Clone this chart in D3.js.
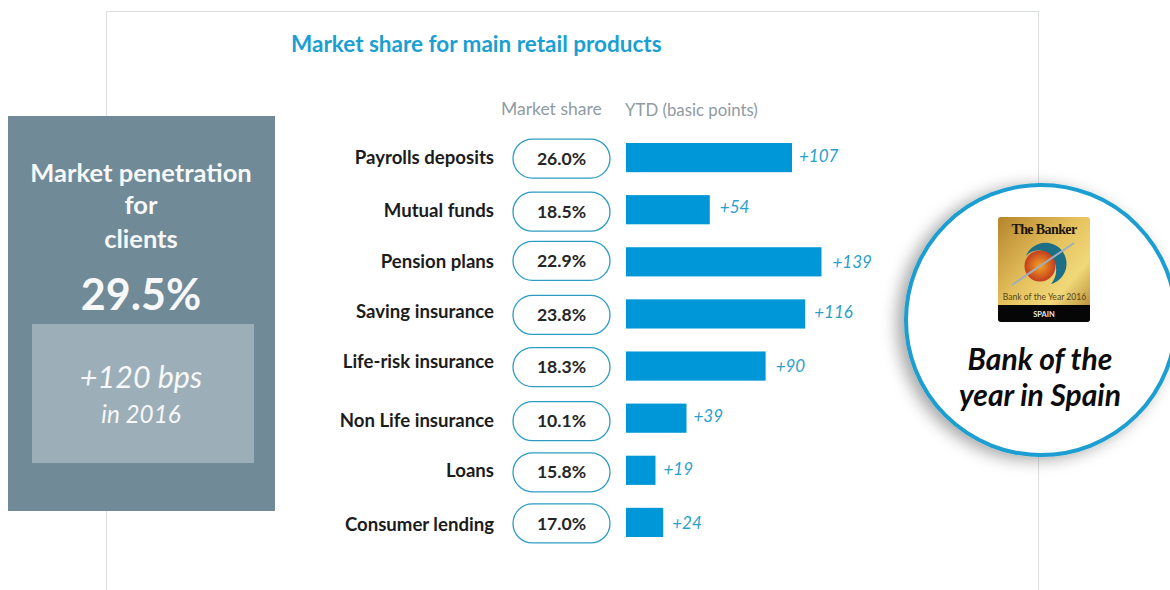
<!DOCTYPE html>
<html>
<head>
<meta charset="utf-8">
<script src="https://cdn.jsdelivr.net/npm/d3@7"></script>
<style>
  html, body { margin: 0; padding: 0; background: #fff; overflow: hidden; }
  text { font-family: Lato, "Open Sans", sans-serif; }
</style>
</head>
<body>
<div id="chart"></div>
<script>
// Chart values
const products = ["Payrolls deposits", "Mutual funds", "Pension plans", "Saving insurance",
  "Life-risk insurance", "Non Life insurance", "Loans", "Consumer lending"];
const marketShare = [26.0, 18.5, 22.9, 23.8, 18.3, 10.1, 15.8, 17.0];
const ytdLabels = [107, 54, 139, 116, 90, 39, 19, 24];
// Bar lengths as drawn in the picture: the +139 bar is shorter than its label says
const ytdBars = [107, 54, 126, 115.5, 90, 39, 19, 24];

const width = 1170;
const height = 590;
const blue = "#0097d8";

const svg = d3.select("#chart").append("svg")
  .attr("width", width)
  .attr("height", height);

const defs = svg.append("defs");

// Shadow of the round badge
const shadow = defs.append("filter").attr("id", "shadow")
  .attr("x", "-20%").attr("y", "-20%").attr("width", "140%").attr("height", "140%");
shadow.append("feDropShadow")
  .attr("dx", -7).attr("dy", 3)
  .attr("stdDeviation", 8)
  .attr("flood-color", "#000")
  .attr("flood-opacity", 0.35);

const gold = defs.append("linearGradient").attr("id", "gold")
  .attr("x1", "0%").attr("y1", "0%").attr("x2", "100%").attr("y2", "100%");
gold.append("stop").attr("offset", "0%").attr("stop-color", "#b5842c");
gold.append("stop").attr("offset", "45%").attr("stop-color", "#e6c25f");
gold.append("stop").attr("offset", "70%").attr("stop-color", "#f0d878");
gold.append("stop").attr("offset", "100%").attr("stop-color", "#a97a28");

const globe = defs.append("radialGradient").attr("id", "globe");
globe.append("stop").attr("offset", "0%").attr("stop-color", "#f4a326");
globe.append("stop").attr("offset", "100%").attr("stop-color", "#c43d1e");

// Outer frame, runs off the bottom of the picture
svg.append("rect")
  .attr("x", 106.5).attr("y", 11.5)
  .attr("width", 932).attr("height", 640)
  .attr("fill", "#fff")
  .attr("stroke", "#dcdfe1");

// Title and column headers
svg.append("text")
  .attr("x", 291).attr("y", 52)
  .attr("font-size", 22.5).attr("font-weight", 700)
  .attr("fill", "#1b9fd3")
  .text("Market share for main retail products");

svg.append("text")
  .attr("x", 501).attr("y", 115)
  .attr("font-size", 17.5).attr("fill", "#8f9ba3")
  .text("Market share");

svg.append("text")
  .attr("x", 625).attr("y", 116)
  .attr("font-size", 16.8).attr("fill", "#8f9ba3")
  .text("YTD (basic points)");

// Scales
const y = d3.scaleBand()
  .domain(products)
  .range([143, 537])
  .paddingInner(0.44)
  .paddingOuter(0);

const x = d3.scaleLinear()
  .domain([0, 107])
  .range([626, 792]);

// Rows in the source are not quite evenly spaced, small nudges per row
const labelNudge = [0, 1, 0, -2, -5, 2, 0, 2];
const pillNudge = [1, 2, -1, 1, 1, 3, 2, 1];
const valueNudge = [-2, -3, 0, -2, 0, -2, -1, 1];
const valueGap = [7, 10, 11, 9, 10, 7, 8, 9];

const rows = svg.selectAll(".row")
  .data(products)
  .enter()
  .append("g")
  .attr("class", "row");

rows.append("text")
  .attr("x", 494)
  .attr("y", (d, i) => y(d) + y.bandwidth() / 2 + labelNudge[i])
  .attr("dy", "0.35em")
  .attr("text-anchor", "end")
  .attr("font-size", 18.6).attr("font-weight", 700)
  .attr("fill", "#1c1c1c")
  .text(d => d);

rows.append("rect")
  .attr("x", 513).attr("width", 97)
  .attr("y", (d, i) => y(d) + y.bandwidth() / 2 + pillNudge[i] - 19.5)
  .attr("height", 39)
  .attr("rx", 19.5)
  .attr("fill", "#fff")
  .attr("stroke", "#2c9cc4")
  .attr("stroke-width", 1.3);

rows.append("text")
  .attr("x", 561.5)
  .attr("y", (d, i) => y(d) + y.bandwidth() / 2 + pillNudge[i])
  .attr("dy", "0.35em")
  .attr("text-anchor", "middle")
  .attr("font-size", 17.6).attr("font-weight", 700)
  .attr("fill", "#262626")
  .text((d, i) => marketShare[i].toFixed(1) + "%");

rows.append("rect")
  .attr("x", x(0))
  .attr("y", d => y(d))
  .attr("width", (d, i) => x(ytdBars[i]) - x(0))
  .attr("height", y.bandwidth())
  .attr("fill", blue);

rows.append("text")
  .attr("x", (d, i) => x(ytdBars[i]) + valueGap[i])
  .attr("y", (d, i) => y(d) + y.bandwidth() / 2 + valueNudge[i])
  .attr("dy", "0.35em")
  .attr("font-size", 17).attr("font-style", "italic")
  .attr("fill", "#2a9fcb")
  .text((d, i) => "+" + ytdLabels[i]);

// Left panel
svg.append("rect")
  .attr("x", 8).attr("y", 116)
  .attr("width", 267).attr("height", 395)
  .attr("fill", "#708a97");

svg.append("rect")
  .attr("x", 32).attr("y", 324)
  .attr("width", 222).attr("height", 139)
  .attr("fill", "#9caeb7");

const panelText = [
  { t: "Market penetration", y: 182, size: 25.5, weight: 700 },
  { t: "for", y: 214, size: 25.5, weight: 700 },
  { t: "clients", y: 248, size: 25.5, weight: 700 },
  { t: "29.5%", y: 310, size: 43, weight: 700 },
  { t: "+120 bps", y: 388, size: 30.5, weight: 400, style: "italic" },
  { t: "in 2016", y: 423, size: 24.3, weight: 400, style: "italic" }
];

svg.selectAll(".panel-text")
  .data(panelText)
  .enter()
  .append("text")
  .attr("class", "panel-text")
  .attr("x", 141)
  .attr("y", d => d.y)
  .attr("text-anchor", "middle")
  .attr("font-size", d => d.size)
  .attr("font-weight", d => d.weight)
  .attr("font-style", d => d.style || "normal")
  .attr("fill", "#f6f8f9")
  .text(d => d.t);

// Round badge on the right
svg.append("circle")
  .attr("cx", 1041).attr("cy", 320).attr("r", 135)
  .attr("fill", "#fff")
  .attr("stroke", "#1c9ed1")
  .attr("stroke-width", 4)
  .attr("filter", "url(#shadow)");

// The Banker award logo
const logo = svg.append("g");

logo.append("rect")
  .attr("x", 998).attr("y", 217)
  .attr("width", 92).attr("height", 105)
  .attr("rx", 3)
  .attr("fill", "url(#gold)");

logo.append("path")
  .attr("d", "M998 305H1090V319a3 3 0 0 1 -3 3H1001a3 3 0 0 1 -3 -3Z")
  .attr("fill", "#060606");

logo.append("text")
  .attr("x", 1044).attr("y", 234)
  .attr("text-anchor", "middle")
  .attr("font-size", 14).attr("font-weight", 700)
  .attr("letter-spacing", -0.6)
  .style("font-family", "'Liberation Serif', serif")
  .attr("fill", "#1a1408")
  .text("The Banker");

// crescent behind the globe
logo.append("path")
  .attr("d", "M1026 256A21 21 0 1 1 1051 284A17 19 0 0 0 1026 256Z")
  .attr("fill", "#1d6f86");

logo.append("circle")
  .attr("cx", 1040).attr("cy", 266).attr("r", 15.5)
  .attr("fill", "url(#globe)");

logo.append("line")
  .attr("x1", 1012).attr("y1", 285)
  .attr("x2", 1074).attr("y2", 243)
  .attr("stroke", "#9db0bc")
  .attr("stroke-width", 2);

logo.append("text")
  .attr("x", 1044.5).attr("y", 300)
  .attr("text-anchor", "middle")
  .attr("font-size", 8.6)
  .attr("fill", "#5a4516")
  .text("Bank of the Year 2016");

logo.append("text")
  .attr("x", 1044).attr("y", 317)
  .attr("text-anchor", "middle")
  .attr("font-size", 7.5).attr("font-weight", 700)
  .attr("fill", "#e8e8e8")
  .text("SPAIN");

svg.append("text")
  .attr("x", 1040).attr("y", 370)
  .attr("text-anchor", "middle")
  .attr("font-size", 30).attr("font-weight", 700).attr("font-style", "italic")
  .attr("fill", "#0c0c0c")
  .text("Bank of the");

svg.append("text")
  .attr("x", 1040).attr("y", 406)
  .attr("text-anchor", "middle")
  .attr("font-size", 30).attr("font-weight", 700).attr("font-style", "italic")
  .attr("fill", "#0c0c0c")
  .text("year in Spain");
</script>
</body>
</html>
